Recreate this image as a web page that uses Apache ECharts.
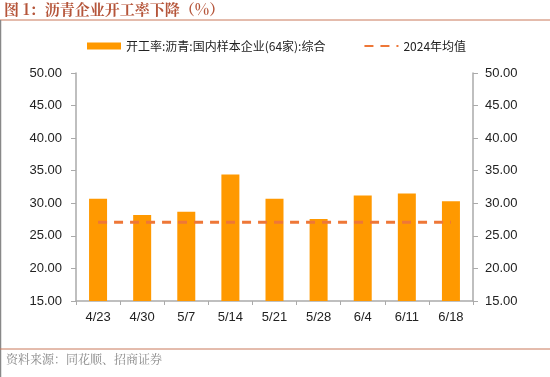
<!DOCTYPE html>
<html>
<head>
<meta charset="utf-8">
<script src="https://cdn.jsdelivr.net/npm/echarts@6/dist/echarts.min.js"></script>
<style>
  html, body { margin: 0; padding: 0; background: #fff; }
  #chart { width: 550px; height: 377px; }
</style>
</head>
<body>
<div id="chart"></div>
<script>
const categories = ['4/23', '4/30', '5/7', '5/14', '5/21', '5/28', '6/4', '6/11', '6/18']
const rateValues = [30.7, 28.2, 28.7, 34.4, 30.7, 27.6, 31.2, 31.5, 30.3]
const avg2024 = 27.1
const avgValues = categories.map(() => avg2024)
const yTicks = { min: 15, max: 50, interval: 5 }

const chart = echarts.init(document.getElementById('chart'))

const labelFont = { fontFamily: 'Liberation Sans, Arial, sans-serif', fontSize: 13, color: '#222' }

const option = {
  animation: false,
  backgroundColor: '#fff',
  graphic: [
    {
      type: 'text', left: 4, top: 2,
      style: {
        text: '图 1：沥青企业开工率下降（%）',
        fill: '#b5553a',
        font: 'bold 15px "Noto Serif CJK SC", "Noto Sans CJK SC", serif'
      }
    },
    { type: 'line', shape: { x1: 0, y1: 20, x2: 550, y2: 20 }, style: { stroke: '#c9785a', lineWidth: 1 } },
    { type: 'line', shape: { x1: 0.5, y1: 20, x2: 0.5, y2: 377 }, style: { stroke: '#888', lineWidth: 1.5 } },
    { type: 'line', shape: { x1: 0, y1: 349, x2: 550, y2: 349 }, style: { stroke: '#c9785a', lineWidth: 1 } },
    {
      type: 'text', left: 6, top: 353,
      style: {
        text: '资料来源：同花顺、招商证券',
        fill: '#888',
        font: '12px "Noto Serif CJK SC", "Noto Sans CJK SC", serif'
      }
    }
  ],
  legend: {
    top: 35,
    left: 82,
    itemGap: 38,
    itemWidth: 34,
    itemHeight: 7,
    textStyle: { fontFamily: 'Noto Sans CJK SC, sans-serif', fontSize: 12, color: '#222' },
    data: [
      { name: '开工率:沥青:国内样本企业(64家):综合', icon: 'rect' },
      { name: '2024年均值', itemStyle: { opacity: 0 } }
    ]
  },
  grid: { left: 76, right: 77, top: 73, bottom: 76, containLabel: false },
  xAxis: {
    type: 'category',
    data: categories,
    axisLine: { lineStyle: { color: '#aaa', width: 1.5 } },
    axisTick: { show: true, alignWithLabel: false, length: 4, lineStyle: { color: '#aaa' } },
    axisLabel: { ...labelFont, margin: 10 }
  },
  yAxis: [
    {
      type: 'value', min: yTicks.min, max: yTicks.max, interval: yTicks.interval,
      axisLine: { show: true, lineStyle: { color: '#aaa', width: 1.5 } },
      axisTick: { show: true, length: 5, lineStyle: { color: '#aaa' } },
      axisLabel: { ...labelFont, margin: 14, formatter: v => v.toFixed(2) },
      splitLine: { show: false }
    },
    {
      type: 'value', min: yTicks.min, max: yTicks.max, interval: yTicks.interval,
      position: 'right',
      axisLine: { show: true, lineStyle: { color: '#aaa', width: 1.5 } },
      axisTick: { show: true, length: 5, lineStyle: { color: '#aaa' } },
      axisLabel: { ...labelFont, margin: 12, formatter: v => v.toFixed(2) },
      splitLine: { show: false }
    }
  ],
  series: [
    {
      name: '开工率:沥青:国内样本企业(64家):综合',
      type: 'bar',
      data: rateValues,
      barWidth: 18,
      itemStyle: { color: '#ff9900' }
    },
    {
      name: '2024年均值',
      type: 'line',
      data: avgValues,
      symbol: 'none',
      lineStyle: { color: '#ee7737', width: 3, type: [9, 7] },
      itemStyle: { color: '#ee7737' },
      z: 3
    }
  ]
}

chart.setOption(option)
</script>
</body>
</html>
